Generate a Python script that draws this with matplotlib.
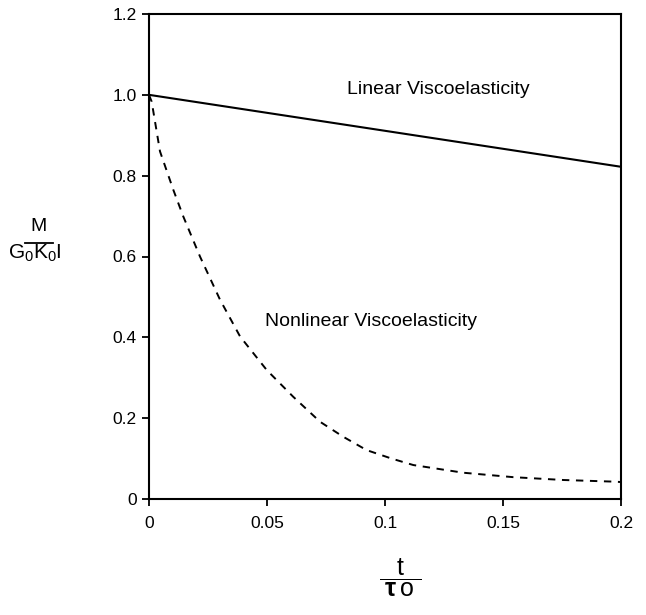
import matplotlib
matplotlib.use("Agg")
import matplotlib.pyplot as plt
from matplotlib.lines import Line2D

plt.rcParams['font.family'] = ['Liberation Sans', 'DejaVu Sans']
plt.rcParams['mathtext.fontset'] = 'custom'
plt.rcParams['mathtext.rm'] = 'Liberation Sans'
plt.rcParams['mathtext.it'] = 'Liberation Sans'
plt.rcParams['mathtext.bf'] = 'Liberation Sans:bold'

# Data
linear_t = [0.0, 0.2]
linear_m = [1.0, 0.822]

nonlinear_t = [0.0, 0.00114, 0.00466, 0.0103, 0.01453, 0.0216, 0.0301, 0.0386,
               0.0499, 0.0611, 0.0725, 0.0823, 0.0922, 0.1028, 0.112, 0.1332,
               0.1544, 0.1756, 0.1967, 0.2]
nonlinear_m = [1.0, 0.983, 0.860, 0.765, 0.699, 0.600, 0.493, 0.402,
               0.319, 0.253, 0.191, 0.154, 0.121, 0.100, 0.084, 0.065,
               0.054, 0.047, 0.043, 0.042]

x_ticks = [0, 0.05, 0.1, 0.15, 0.2]
x_ticklabels = ['0', '0.05', '0.1', '0.15', '0.2']
y_ticks = [0, 0.2, 0.4, 0.6, 0.8, 1.0, 1.2]
y_ticklabels = ['0', '0.2', '0.4', '0.6', '0.8', '1.0', '1.2']

W, H = 646, 615
fig = plt.figure(figsize=(W / 100, H / 100), dpi=100)
ax = fig.add_axes([149 / W, 1 - 499 / H, 472 / W, 485 / H])

ax.plot(linear_t, linear_m, color='black', lw=1.5, solid_capstyle='butt')
ln, = ax.plot(nonlinear_t, nonlinear_m, color='black', lw=1.4)
ln.set_dashes((3.8, 3.4))

ax.set_xlim(0, 0.2)
ax.set_ylim(0, 1.2)
ax.set_xticks(x_ticks)
ax.set_xticklabels(x_ticklabels)
ax.set_yticks(y_ticks)
ax.set_yticklabels(y_ticklabels)

for s in ax.spines.values():
    s.set_linewidth(1.5)
    s.set_color('black')

ax.tick_params(axis='both', direction='out', length=5, width=1.3,
               labelsize=12.5, colors='black')
ax.tick_params(axis='x', pad=7)
ax.tick_params(axis='y', pad=4)

ax.text(0.0839, 1.012, 'Linear Viscoelasticity', fontsize=14,
        ha='left', va='center')
ax.text(0.0492, 0.438, 'Nonlinear Viscoelasticity', fontsize=14,
        ha='left', va='center')

# y label: M / (G0 K0 I)
fig.text(38 / W, 1 - 231 / H, r'$\mathrm{M}$', fontsize=14, ha='center', va='baseline')
fig.add_artist(Line2D([25 / W, 53 / W], [1 - 243 / H, 1 - 243 / H],
                      transform=fig.transFigure, color='black', lw=1.3))
fig.text(35 / W, 1 - 259 / H, r'$\mathrm{G_0K_0I}$', fontsize=15,
         ha='center', va='baseline')

# x label: t / tau_o (single fraction text)
fig.text(400 / W, 1 - 578 / H,
         r'$\dfrac{\mathrm{t}}{\;\mathbf{\tau}\,\mathrm{o}\;}$',
         fontsize=18, ha='center', va='center')

fig.savefig('out.png', dpi=100, facecolor='white')
